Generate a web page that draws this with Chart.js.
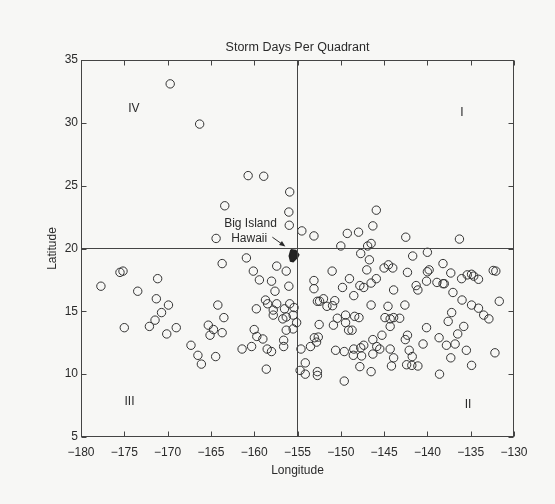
<!DOCTYPE html>
<html lang="en">
<head>
  <meta charset="UTF-8" />
  <title>Storm Days Per Quadrant</title>
  <script src="https://cdn.jsdelivr.net/npm/chart.js"></script>
  <style>
    html, body {
      margin: 0;
      padding: 0;
      background: #f7f7f5;
    }
    canvas {
      display: block;
    }
  </style>
</head>
<body>
  <canvas id="stormChart" width="555" height="504" role="img" aria-label="Storm days per quadrant scatter plot"></canvas>

  <script>
    // storm positions (longitude / latitude)
    const stormLon = [
      -169.7, -166.3, -160.7, -158.9, -155.9, -163.4, -156.0, -155.95, -164.4, -154.5,
      -153.1, -150.0, -149.25, -147.95, -145.9, -146.3, -146.5, -146.9, -142.5, -136.3,
      -177.7, -175.5, -175.15, -175.0, -173.45, -171.15, -171.3, -169.9, -170.7, -171.45,
      -172.1, -170.1, -169.0, -167.3, -166.5, -166.1, -164.45, -165.3, -164.7, -165.1,
      -163.7, -163.5, -164.2, -163.7, -160.9, -160.1, -159.4, -157.4, -156.3, -158.0,
      -156.0, -157.6, -158.7, -158.45, -159.75, -157.4, -157.8, -157.8, -156.5, -155.9,
      -155.4, -155.5, -156.7, -156.3, -156.3, -155.5, -155.1, -160.0, -159.7, -159.0,
      -160.3, -161.4, -158.5, -158.0, -156.6, -156.6, -158.6,
      -154.6, -154.7, -154.1, -154.1, -152.7, -152.7, -147.7, -146.7, -147.0, -145.9,
      -141.7, -140.0, -138.2, -145.0, -144.5, -144.0, -151.0, -153.1, -153.1, -149.0,
      -149.8, -147.8, -147.35, -146.5, -148.5, -143.9, -142.3, -140.0, -139.8, -141.3,
      -141.1, -140.1, -138.9, -138.2, -138.05, -137.3, -137.05, -136.05, -135.4, -134.9,
      -134.65, -134.1, -132.4, -132.1, -136.0, -134.9, -134.1, -133.5, -132.9, -131.7,
      -137.2, -137.6, -135.8, -136.5, -136.8, -137.8, -135.5, -137.3, -134.9, -132.2,
      -138.65, -138.6, -140.1, -140.5, -142.6, -142.3, -142.55, -142.1, -141.75, -142.4,
      -141.8, -141.1, -143.9, -144.15, -144.3, -145.25, -144.55, -144.9, -144.3, -143.9,
      -143.2, -144.3, -146.5, -146.3, -145.85, -145.5, -146.3, -146.5, -147.8, -147.6,
      -147.35, -147.7, -148.5, -148.55, -149.6, -150.6, -149.6, -149.45, -148.4, -147.9,
      -149.45, -149.1, -148.7, -150.4, -150.85, -152.5, -153.05, -152.6, -152.8, -153.5,
      -152.7, -152.45, -152.0, -151.6, -150.95, -150.7
    ];
    const stormLat = [
      33.1, 29.9, 25.8, 25.75, 24.5, 23.4, 22.9, 21.85, 20.8, 21.4,
      21.0, 20.2, 21.2, 21.3, 23.05, 21.8, 20.4, 20.2, 20.9, 20.75,
      17.0, 18.1, 18.2, 13.7, 16.6, 17.6, 16.0, 15.5, 14.9, 14.3,
      13.8, 13.2, 13.7, 12.3, 11.5, 10.8, 11.4, 13.9, 13.55, 13.1,
      13.3, 14.5, 15.5, 18.8, 19.25, 18.2, 17.5, 18.6, 18.2, 17.4,
      17.0, 16.6, 15.9, 15.6, 15.2, 15.6, 15.1, 14.7, 15.2, 15.6,
      15.3, 14.7, 14.4, 14.55, 13.5, 13.6, 14.1, 13.55, 13.0, 12.8,
      12.2, 12.0, 12.0, 11.8, 12.7, 12.2, 10.4,
      12.0, 10.3, 10.9, 10.0, 10.2, 9.9, 19.6, 19.1, 18.3, 17.6,
      19.4, 19.7, 18.8, 18.45, 18.7, 18.45, 18.2, 17.45, 16.8, 17.6,
      16.9, 17.05, 16.9, 17.25, 16.25, 16.7, 18.1, 18.15, 18.3, 17.05,
      16.7, 17.4, 17.3, 17.2, 17.2, 18.05, 16.5, 17.6, 17.9, 17.95,
      17.8, 17.55, 18.25, 18.2, 15.9, 15.5, 15.25, 14.7, 14.4, 15.8,
      14.9, 14.2, 13.8, 13.2, 12.4, 12.3, 11.9, 11.3, 10.7, 11.7,
      12.9, 10.0, 13.7, 12.4, 15.5, 13.1, 12.75, 11.9, 11.4, 10.75,
      10.7, 10.65, 11.3, 10.65, 12.0, 13.1, 15.4, 14.5, 14.4, 14.5,
      14.45, 13.8, 15.5, 12.75, 12.2, 12.0, 11.6, 10.2, 10.6, 11.45,
      12.3, 12.1, 12.0, 11.5, 11.8, 11.9, 9.45, 14.7, 14.6, 14.5,
      14.1, 13.5, 13.5, 14.45, 13.9, 13.95, 12.9, 12.95, 12.55, 12.2,
      15.8, 15.8, 16.0, 15.4, 15.45, 15.85
    ];

    // quadrant dividers
    const dividerLon = -155;
    const dividerLat = 20;

    // rough outline of the Big Island
    const hawaiiLon = [-155.75, -155.2, -154.85, -155.0, -155.5, -155.8, -155.95, -155.75];
    const hawaiiLat = [19.9, 19.85, 19.5, 19.3, 18.95, 19.0, 19.4, 19.9];

    const xTicks = [-180, -175, -170, -165, -160, -155, -150, -145, -140, -135, -130];
    const yTicks = [5, 10, 15, 20, 25, 30, 35];

    const quadrantNames = ['I', 'II', 'III', 'IV'];
    const quadrantLon = [-136.0, -135.3, -174.4, -173.9];
    const quadrantLat = [30.8, 7.6, 7.8, 31.1];

    const FONT = "'Liberation Sans', Arial, Helvetica, sans-serif";
    const INK = '#2a2a2a';

    const storms = stormLon.map((x, i) => ({ x, y: stormLat[i] }));
    const hawaii = hawaiiLon.map((x, i) => ({ x, y: hawaiiLat[i] }));

    // background, frame, inward ticks and the annotations
    const paperPlugin = {
      id: 'paper',
      beforeDraw(chart) {
        const ctx = chart.ctx;
        ctx.save();
        ctx.fillStyle = '#f7f7f5';
        ctx.fillRect(0, 0, chart.width, chart.height);
        ctx.restore();
      },
      afterDatasetsDraw(chart) {
        const { ctx, chartArea: a, scales } = chart;
        const sx = scales.x, sy = scales.y;
        const L = Math.round(a.left) + 0.5, R = Math.round(a.right) - 0.5;
        const T = Math.round(a.top) + 0.5, B = Math.round(a.bottom) - 0.5;
        ctx.save();
        ctx.strokeStyle = '#444';
        ctx.lineWidth = 1;
        ctx.strokeRect(L, T, R - L, B - T);

        const tick = 5;
        ctx.beginPath();
        xTicks.forEach(v => {
          const px = Math.round(sx.getPixelForValue(v)) + 0.5;
          ctx.moveTo(px, B); ctx.lineTo(px, B - tick);
          ctx.moveTo(px, T); ctx.lineTo(px, T + tick);
        });
        yTicks.forEach(v => {
          const py = Math.round(sy.getPixelForValue(v)) + 0.5;
          ctx.moveTo(L, py); ctx.lineTo(L + tick, py);
          ctx.moveTo(R, py); ctx.lineTo(R - tick, py);
        });
        ctx.stroke();

        ctx.fillStyle = INK;
        ctx.font = '12px ' + FONT;
        ctx.textAlign = 'center';
        ctx.textBaseline = 'middle';
        quadrantNames.forEach((t, i) => {
          ctx.fillText(t, sx.getPixelForValue(quadrantLon[i]), sy.getPixelForValue(quadrantLat[i]));
        });
        ctx.fillText('Big Island', sx.getPixelForValue(-160.43), sy.getPixelForValue(21.95));
        ctx.fillText('Hawaii', sx.getPixelForValue(-160.58), sy.getPixelForValue(20.76));

        // arrow to the island
        const x0 = sx.getPixelForValue(-157.9), y0 = sy.getPixelForValue(20.9);
        const x1 = sx.getPixelForValue(-156.4), y1 = sy.getPixelForValue(20.16);
        const ang = Math.atan2(y1 - y0, x1 - x0);
        ctx.strokeStyle = INK;
        ctx.beginPath();
        ctx.moveTo(x0, y0);
        ctx.lineTo(x1 - 4 * Math.cos(ang), y1 - 4 * Math.sin(ang));
        ctx.stroke();
        ctx.beginPath();
        ctx.moveTo(x1, y1);
        ctx.lineTo(x1 - 6 * Math.cos(ang) + 2.5 * Math.sin(ang), y1 - 6 * Math.sin(ang) - 2.5 * Math.cos(ang));
        ctx.lineTo(x1 - 6 * Math.cos(ang) - 2.5 * Math.sin(ang), y1 - 6 * Math.sin(ang) + 2.5 * Math.cos(ang));
        ctx.closePath();
        ctx.fill();
        ctx.restore();
      }
    };

    const ctx = document.getElementById('stormChart').getContext('2d');
    new Chart(ctx, {
      type: 'scatter',
      data: {
        datasets: [
          {
            label: 'Vertical divider',
            type: 'line',
            data: [{ x: dividerLon, y: 5 }, { x: dividerLon, y: 35 }],
            borderColor: '#444',
            borderWidth: 1,
            pointRadius: 0,
            fill: false
          },
          {
            label: 'Horizontal divider',
            type: 'line',
            data: [{ x: -180, y: dividerLat }, { x: -130, y: dividerLat }],
            borderColor: '#444',
            borderWidth: 1,
            pointRadius: 0,
            fill: false
          },
          {
            label: 'Storms',
            data: storms,
            pointStyle: 'circle',
            pointRadius: 4.2,
            borderWidth: 1,
            borderColor: '#333',
            backgroundColor: 'rgba(0,0,0,0)'
          },
          {
            label: 'Big Island',
            type: 'line',
            data: hawaii,
            borderColor: '#222',
            backgroundColor: '#222',
            borderWidth: 1.5,
            pointRadius: 0,
            tension: 0,
            fill: 'shape'
          }
        ]
      },
      options: {
        responsive: false,
        animation: false,
        events: [],
        layout: { padding: { left: 0, right: 41, top: 0, bottom: 0 } },
        plugins: {
          legend: { display: false },
          tooltip: { enabled: false },
          title: {
            display: true,
            fullSize: false,
            text: 'Storm Days Per Quadrant',
            color: INK,
            font: { family: FONT, size: 12.5, weight: 'normal' },
            padding: { top: 40, bottom: 5 }
          }
        },
        scales: {
          x: {
            type: 'linear',
            min: -180,
            max: -130,
            afterFit: s => { s.height = 67; },
            afterBuildTicks: s => { s.ticks = xTicks.map(v => ({ value: v })); },
            grid: { display: false, drawTicks: false },
            border: { display: false },
            ticks: {
              autoSkip: false,
              maxRotation: 0,
              padding: 8,
              color: INK,
              font: { family: FONT, size: 12 },
              callback: v => String(v).replace('-', '\u2212')
            },
            title: {
              display: true,
              text: 'Longitude',
              color: INK,
              font: { family: FONT, size: 12 },
              padding: { top: 0, bottom: 26 }
            }
          },
          y: {
            type: 'linear',
            min: 5,
            max: 35,
            afterFit: s => { s.width = 81; },
            afterBuildTicks: s => { s.ticks = yTicks.map(v => ({ value: v })); },
            grid: { display: false, drawTicks: false },
            border: { display: false },
            ticks: {
              padding: 3,
              color: INK,
              font: { family: FONT, size: 12 }
            },
            title: {
              display: true,
              text: 'Latitude',
              color: INK,
              font: { family: FONT, size: 12 },
              padding: { top: 45, bottom: 0 }
            }
          }
        }
      },
      plugins: [paperPlugin]
    });
  </script>
</body>
</html>
